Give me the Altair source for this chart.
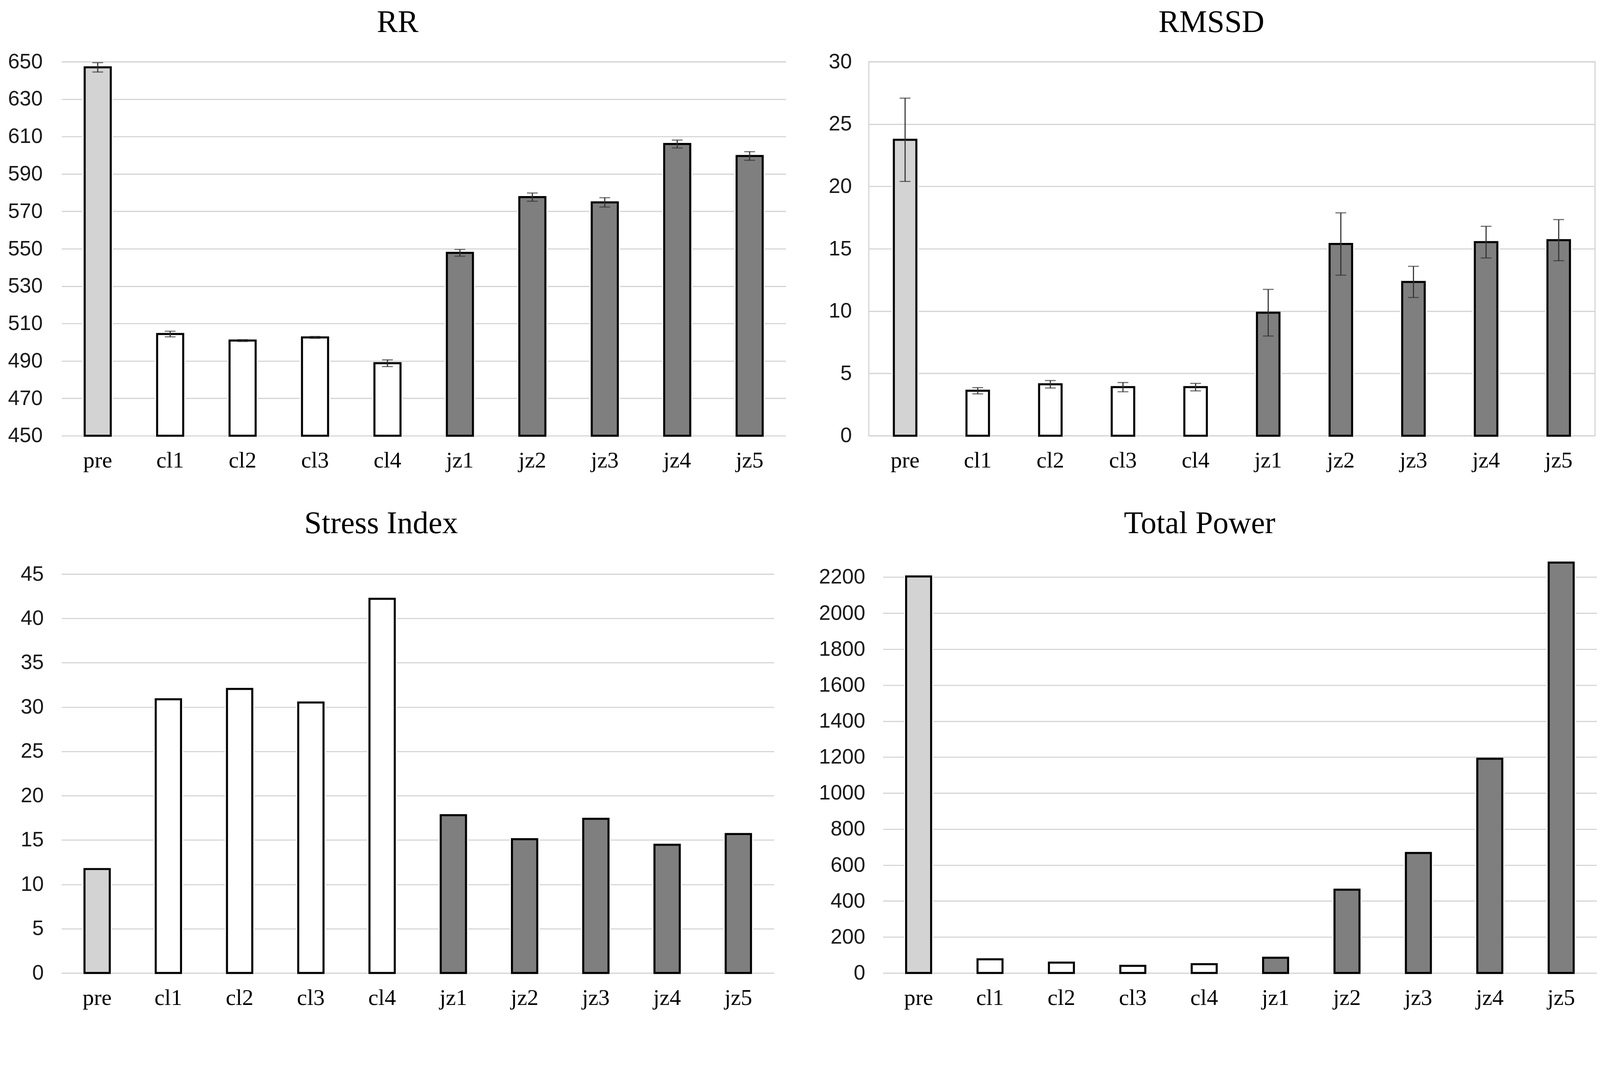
import altair as alt
import pandas as pd

categories = ["pre", "cl1", "cl2", "cl3", "cl4", "jz1", "jz2", "jz3", "jz4", "jz5"]
groups = ["pre", "cl", "cl", "cl", "cl", "jz", "jz", "jz", "jz", "jz"]

rr_mean = [647.0, 504.4, 500.9, 502.6, 488.8, 547.8, 577.6, 574.8, 606.0, 599.6]
rr_err = [2.5, 1.5, 0.5, 0.5, 1.8, 1.8, 2.2, 2.5, 2.1, 2.3]
rmssd_mean = [23.74, 3.61, 4.13, 3.90, 3.90, 9.87, 15.38, 12.34, 15.53, 15.69]
rmssd_err = [3.34, 0.25, 0.30, 0.37, 0.30, 1.87, 2.50, 1.25, 1.27, 1.65]
stress_mean = [11.73, 30.88, 32.05, 30.52, 42.21, 17.8, 15.1, 17.4, 14.47, 15.68]
tp_mean = [2204, 76, 58, 40, 49, 85, 463, 667, 1191, 2281]

rr_ticks = [450, 470, 490, 510, 530, 550, 570, 590, 610, 630, 650]
rmssd_ticks = [0, 5, 10, 15, 20, 25, 30]
stress_ticks = [0, 5, 10, 15, 20, 25, 30, 35, 40, 45]
tp_ticks = [0, 200, 400, 600, 800, 1000, 1200, 1400, 1600, 1800, 2000, 2200]

group_names = ["pre", "cl", "jz"]
group_colors = ["#D3D3D3", "#FFFFFF", "#7F7F7F"]

GRID = "#D4D4D4"
ERR = "#333333"


def panel(title, values, errs, domain, ticks, width, height, extent, lpad,
          toffset, tdx, band, border=False):
    df = pd.DataFrame({"cat": categories, "grp": groups, "v": values})
    df["base"] = domain[0]
    if errs is not None:
        df["lo"] = [m - e for m, e in zip(values, errs)]
        df["hi"] = [m + e for m, e in zip(values, errs)]

    xax = alt.Axis(title=None, labelAngle=0, labelFont="Liberation Serif",
                   labelFontSize=61, labelColor="#000000", labelPadding=85,
                   labelBaseline="alphabetic", ticks=False, tickSize=0,
                   domain=False, grid=False)
    x = alt.X("cat:N", sort=categories,
              scale=alt.Scale(paddingInner=0, paddingOuter=0), axis=xax)
    ysc = alt.Scale(domain=domain, zero=False, nice=False)
    yax = alt.Axis(title=None, values=ticks, format="d", labelFont="Liberation Sans",
                   labelFontSize=56, labelColor="#1A1A1A", labelPadding=lpad,
                   ticks=False, tickSize=0, domain=False, grid=True,
                   gridColor=GRID, gridWidth=3, minExtent=extent,
                   maxExtent=extent)

    base = alt.Chart(df)
    halo = base.mark_bar(color="white", width=alt.RelativeBandSize(band + 0.06)).encode(
        x=x, y=alt.Y("v:Q", scale=ysc, axis=yax), y2="base:Q")
    bars = base.mark_bar(stroke="black", strokeWidth=5.5,
                         width=alt.RelativeBandSize(band)).encode(
        x=x, y=alt.Y("v:Q", scale=ysc, axis=yax), y2="base:Q",
        color=alt.Color("grp:N", scale=alt.Scale(domain=group_names, range=group_colors),
                        legend=None))
    layers = [halo, bars]
    if errs is not None:
        rule = base.mark_rule(color=ERR, strokeWidth=3).encode(
            x=x, y=alt.Y("lo:Q", scale=ysc, axis=yax), y2="hi:Q")
        cap_lo = base.mark_tick(color=ERR, size=29, thickness=3).encode(
            x=x, y=alt.Y("lo:Q", scale=ysc, axis=yax))
        cap_hi = base.mark_tick(color=ERR, size=29, thickness=3).encode(
            x=x, y=alt.Y("hi:Q", scale=ysc, axis=yax))
        layers += [rule, cap_lo, cap_hi]

    if border:
        view = alt.ViewBackground(stroke=GRID, strokeWidth=3)
    else:
        view = alt.ViewBackground(strokeWidth=0)
    return alt.layer(*layers).properties(
        width=width, height=height,
        title=alt.TitleParams(title, font="Liberation Serif", fontSize=84,
                              fontWeight="normal", color="#000000",
                              anchor="middle", frame="bounds", offset=toffset, dx=tdx),
        view=view,
    )


rr = panel("RR", rr_mean, rr_err, [450, 650], rr_ticks, 1948, 1006, 150, 51, 34, 5, 0.36)
rmssd = panel("RMSSD", rmssd_mean, rmssd_err, [0, 30], rmssd_ticks, 1953, 1006, 110, 46, 34, 0, 0.31, border=True)
stress = panel("Stress Index", stress_mean, None, [0, 46.68], stress_ticks, 1916, 1113, 157, 48, 52, -20, 0.355)
tp = panel("Total Power", tp_mean, None, [0, 2300], tp_ticks, 1920, 1113, 170, 48, 52, -22, 0.35)

chart = alt.vconcat(
    alt.hconcat(rr, rmssd, spacing=111),
    alt.hconcat(stress, tp, spacing=120),
    spacing=96,
).properties(padding={"left": 0, "top": -58, "right": 0, "bottom": 0}, background="white")

chart.save("out.html", embed_options={"renderer": "svg", "actions": False})
